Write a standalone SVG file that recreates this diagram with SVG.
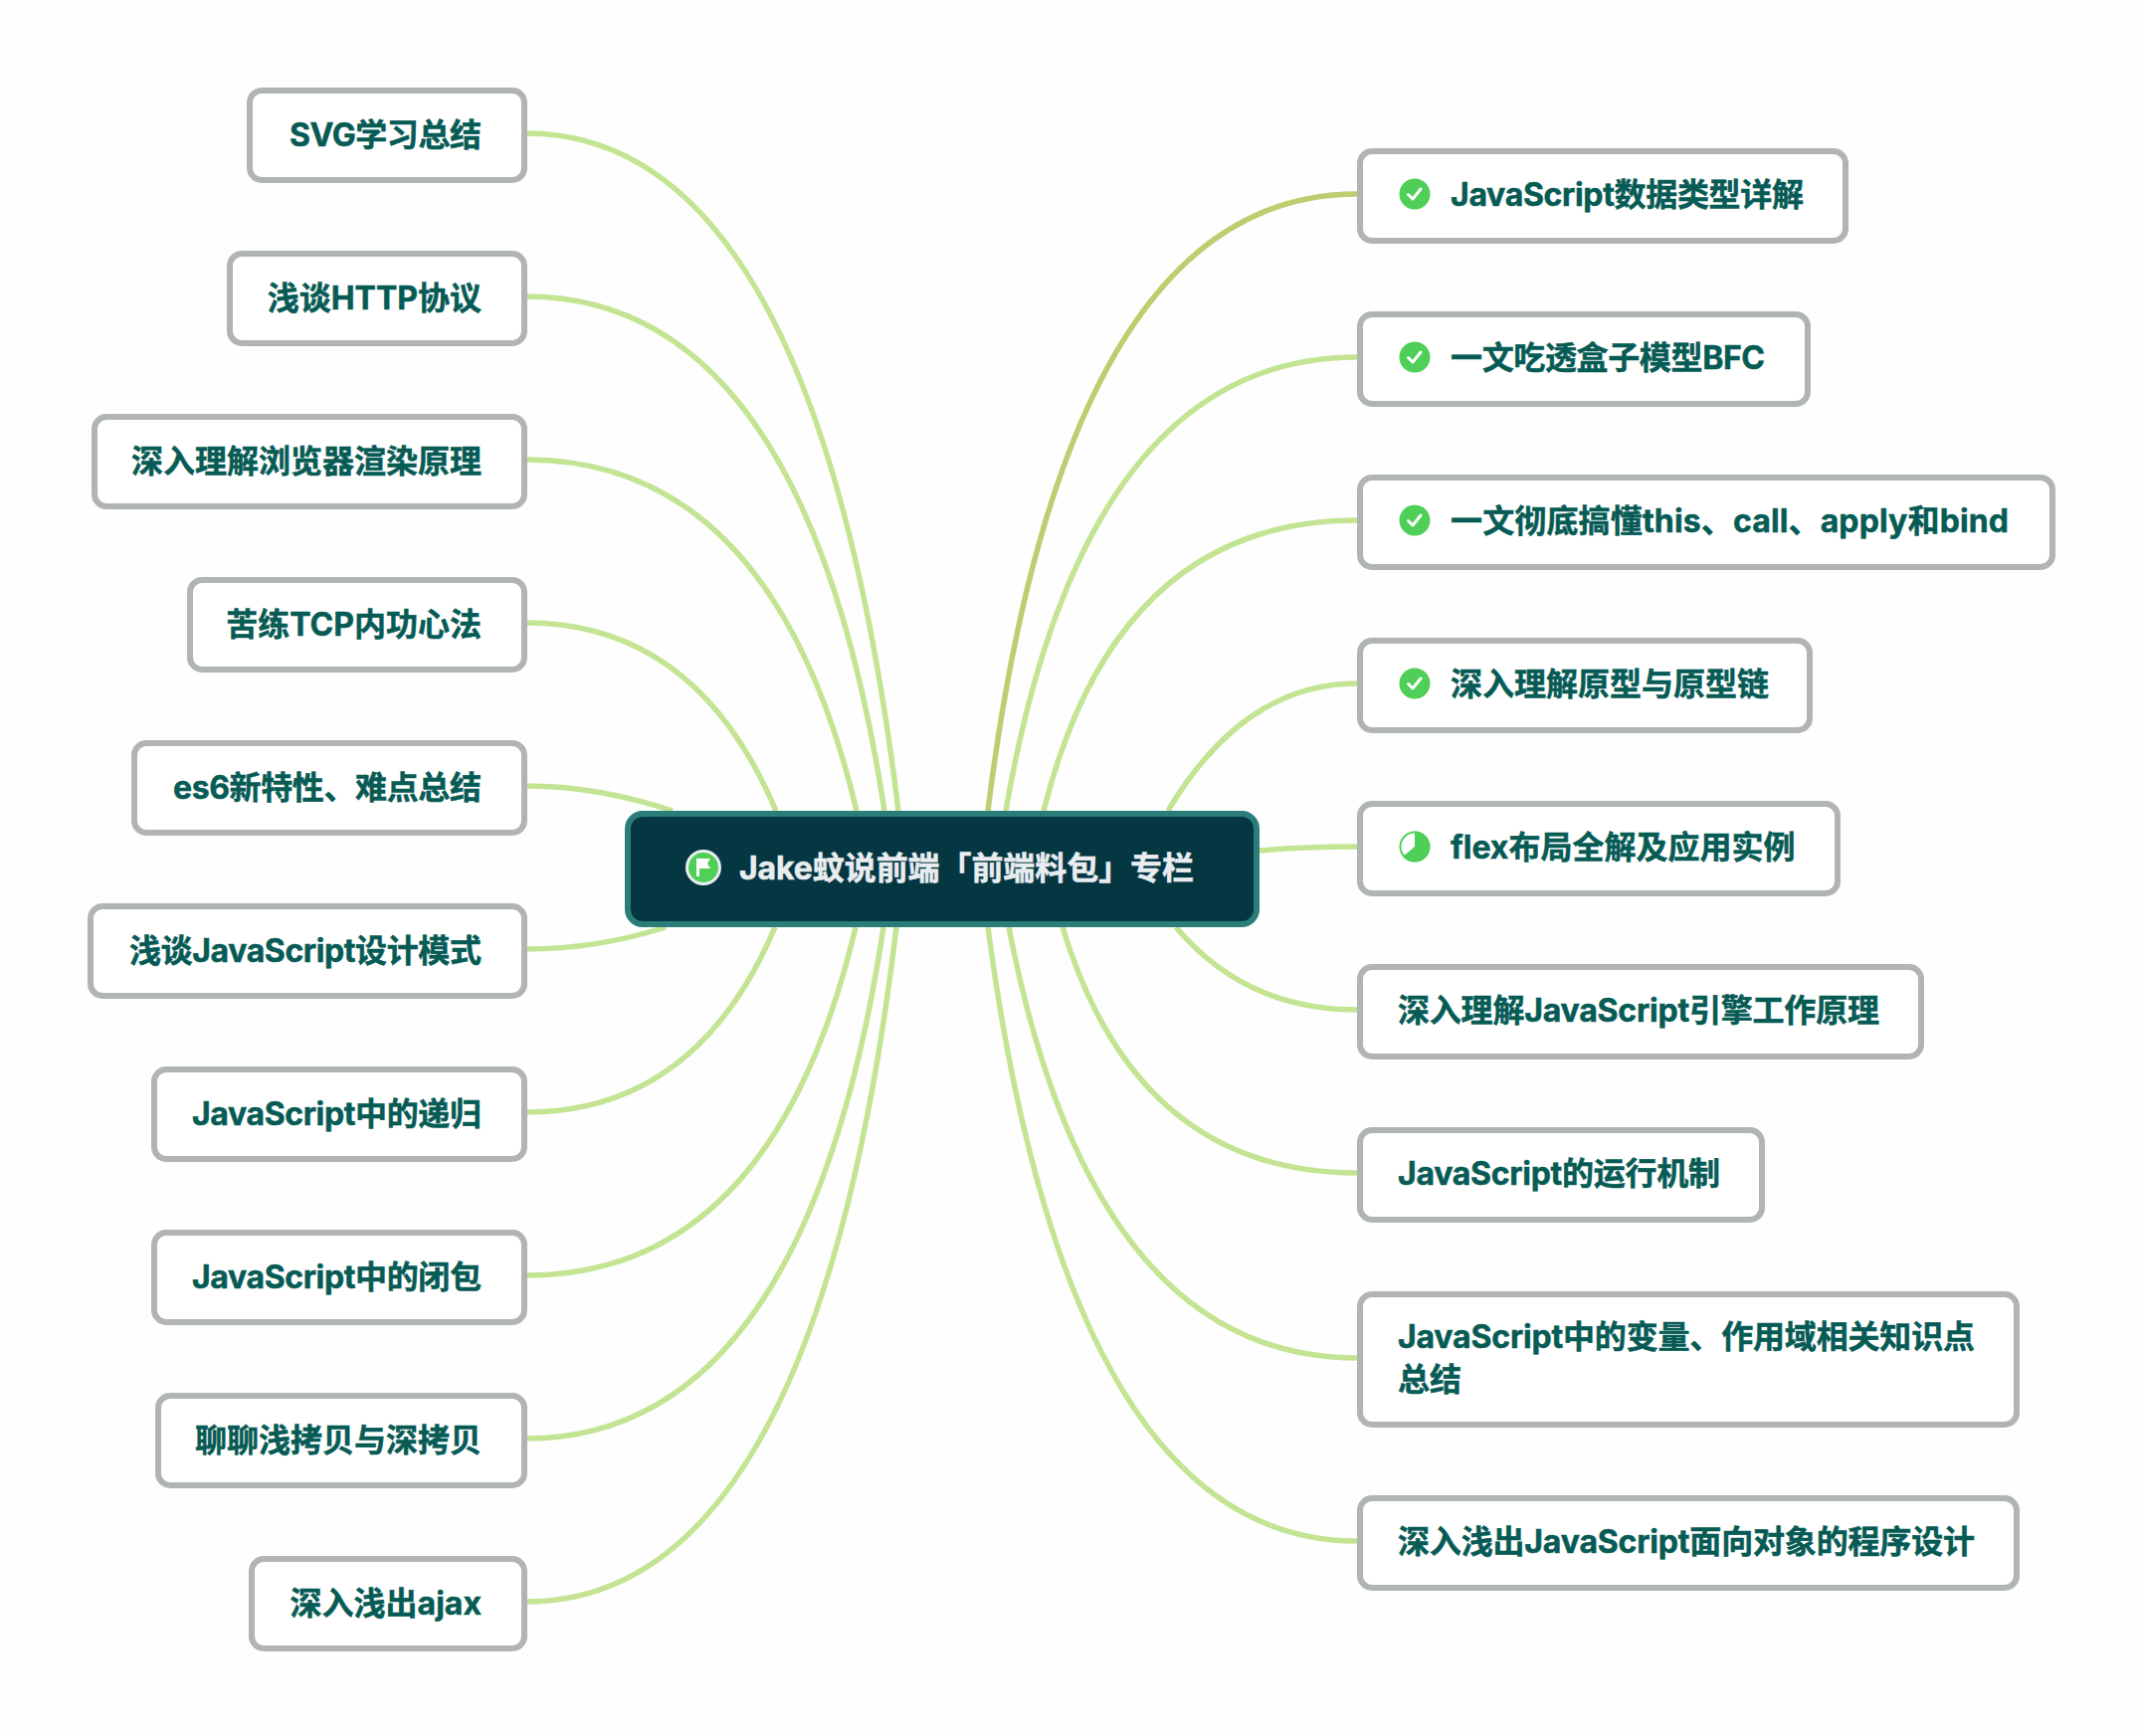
<svg xmlns="http://www.w3.org/2000/svg" width="2151" height="1745" viewBox="0 0 2151 1745">
<style>
text{font-family:Inter,"Noto Sans CJK SC",sans-serif;font-weight:700;font-size:32px;fill:#075b55;stroke:#075b55;stroke-width:.5}
.l{text-anchor:end}
.n{fill:#fff;stroke:#b0b5b3;stroke-width:6}
.c{fill:none;stroke:#c3e493;stroke-width:5.500}
.i{fill:#4fcf57}
.k{fill:none;stroke:#fff;stroke-width:3;stroke-linecap:round;stroke-linejoin:round}
</style>
<defs>
<g id="ok"><circle class="i" r="15.500"/><path class="k" d="M-6.500 0.500L-2 5L6 -5"/></g>
</defs>
<rect width="2151" height="1745" fill="#fefefe"/>
<g id="connectors">
<path class="c" d="M529 134Q820 134 903 815"/>
<path class="c" d="M529 298Q810 298 889 815"/>
<path class="c" d="M529 462Q777 462 861 815"/>
<path class="c" d="M529 626Q700 626 780 815"/>
<path class="c" d="M529 790Q600 790 676 815"/>
<path class="c" d="M529 954Q600 954 669 932"/>
<path class="c" d="M529 1118Q700 1118 779 932"/>
<path class="c" d="M529 1282Q777 1282 860 932"/>
<path class="c" d="M529 1446Q810 1446 888 932"/>
<path class="c" d="M529 1610Q820 1610 901 932"/>
<path class="c" style="stroke:#bfcc6f" d="M1364 195Q1070 195 993 815"/>
<path class="c" d="M1364 359Q1090 359 1011 815"/>
<path class="c" d="M1364 523Q1122 523 1049 815"/>
<path class="c" d="M1364 687Q1250 687 1174 815"/>
<path class="c" d="M1364 851Q1310 851 1266 855"/>
<path class="c" d="M1364 1015Q1252 1015 1182 932"/>
<path class="c" d="M1364 1179Q1143 1179 1068 932"/>
<path class="c" d="M1364 1365Q1098 1365 1014 932"/>
<path class="c" d="M1364 1549Q1075 1549 993 932"/>
</g>
<g id="root">
<rect x="631" y="818" width="632" height="111" rx="15" fill="#053742" stroke="#2b7d7a" stroke-width="6"/>
<circle cx="707" cy="872" r="18" fill="#e9edf0"/><circle class="i" cx="707" cy="872" r="15"/>
<path fill="#fff" d="M700 863h14l-3 5 3 5h-11v8h-3z"/>
<text x="743" y="884" textLength="457" style="fill:#e9edf0;stroke:#e9edf0">Jake蚊说前端「前端料包」专栏</text>
</g>
<g id="l1"><rect class="n" x="251" y="91" width="276" height="90" rx="12"/><text class="l" x="484" y="147" textLength="193">SVG学习总结</text></g>
<g id="l2"><rect class="n" x="231" y="255" width="296" height="90" rx="12"/><text class="l" x="484" y="311">浅谈HTTP协议</text></g>
<g id="l3"><rect class="n" x="95" y="419" width="432" height="90" rx="12"/><text class="l" x="484" y="475">深入理解浏览器渲染原理</text></g>
<g id="l4"><rect class="n" x="191" y="583" width="336" height="90" rx="12"/><text class="l" x="484" y="639">苦练TCP内功心法</text></g>
<g id="l5"><rect class="n" x="135" y="747" width="392" height="90" rx="12"/><text class="l" x="484" y="803" textLength="310">es6新特性、难点总结</text></g>
<g id="l6"><rect class="n" x="91" y="911" width="436" height="90" rx="12"/><text class="l" x="484" y="967" textLength="354">浅谈JavaScript设计模式</text></g>
<g id="l7"><rect class="n" x="155" y="1075" width="372" height="90" rx="12"/><text class="l" x="484" y="1131" textLength="291">JavaScript中的递归</text></g>
<g id="l8"><rect class="n" x="155" y="1239" width="372" height="90" rx="12"/><text class="l" x="484" y="1295" textLength="291">JavaScript中的闭包</text></g>
<g id="l9"><rect class="n" x="159" y="1403" width="368" height="90" rx="12"/><text class="l" x="484" y="1459">聊聊浅拷贝与深拷贝</text></g>
<g id="l10"><rect class="n" x="253" y="1567" width="274" height="90" rx="12"/><text class="l" x="484" y="1623">深入浅出ajax</text></g>
<g id="r1"><rect class="n" x="1367" y="152" width="488" height="90" rx="12"/><use href="#ok" x="1422" y="195"/><text x="1458" y="207" textLength="355">JavaScript数据类型详解</text></g>
<g id="r2"><rect class="n" x="1367" y="316" width="450" height="90" rx="12"/><use href="#ok" x="1422" y="359"/><text x="1458" y="371" textLength="316">一文吃透盒子模型BFC</text></g>
<g id="r3"><rect class="n" x="1367" y="480" width="696" height="90" rx="12"/><use href="#ok" x="1422" y="523"/><text x="1458" y="535" textLength="561">一文彻底搞懂this、call、apply和bind</text></g>
<g id="r4"><rect class="n" x="1367" y="644" width="452" height="90" rx="12"/><use href="#ok" x="1422" y="687"/><text x="1458" y="699">深入理解原型与原型链</text></g>
<g id="r5"><rect class="n" x="1367" y="808" width="480" height="90" rx="12"/><circle cx="1422" cy="851" r="14.500" fill="#fff" stroke="#4fcf57" stroke-width="2"/><path class="i" d="M1422 835.500A15.500 15.500 0 1 1 1410 861L1422 851Z"/><text x="1458" y="863">flex布局全解及应用实例</text></g>
<g id="r6"><rect class="n" x="1367" y="972" width="564" height="90" rx="12"/><text x="1405" y="1027" textLength="484">深入理解JavaScript引擎工作原理</text></g>
<g id="r7"><rect class="n" x="1367" y="1136" width="404" height="90" rx="12"/><text x="1405" y="1191" textLength="324">JavaScript的运行机制</text></g>
<g id="r8"><rect class="n" x="1367" y="1301" width="660" height="131" rx="12"/><text x="1405" y="1355" textLength="580">JavaScript中的变量、作用域相关知识点</text><text x="1405" y="1398">总结</text></g>
<g id="r9"><rect class="n" x="1367" y="1506" width="660" height="90" rx="12"/><text x="1405" y="1561" textLength="580">深入浅出JavaScript面向对象的程序设计</text></g>
</svg>
